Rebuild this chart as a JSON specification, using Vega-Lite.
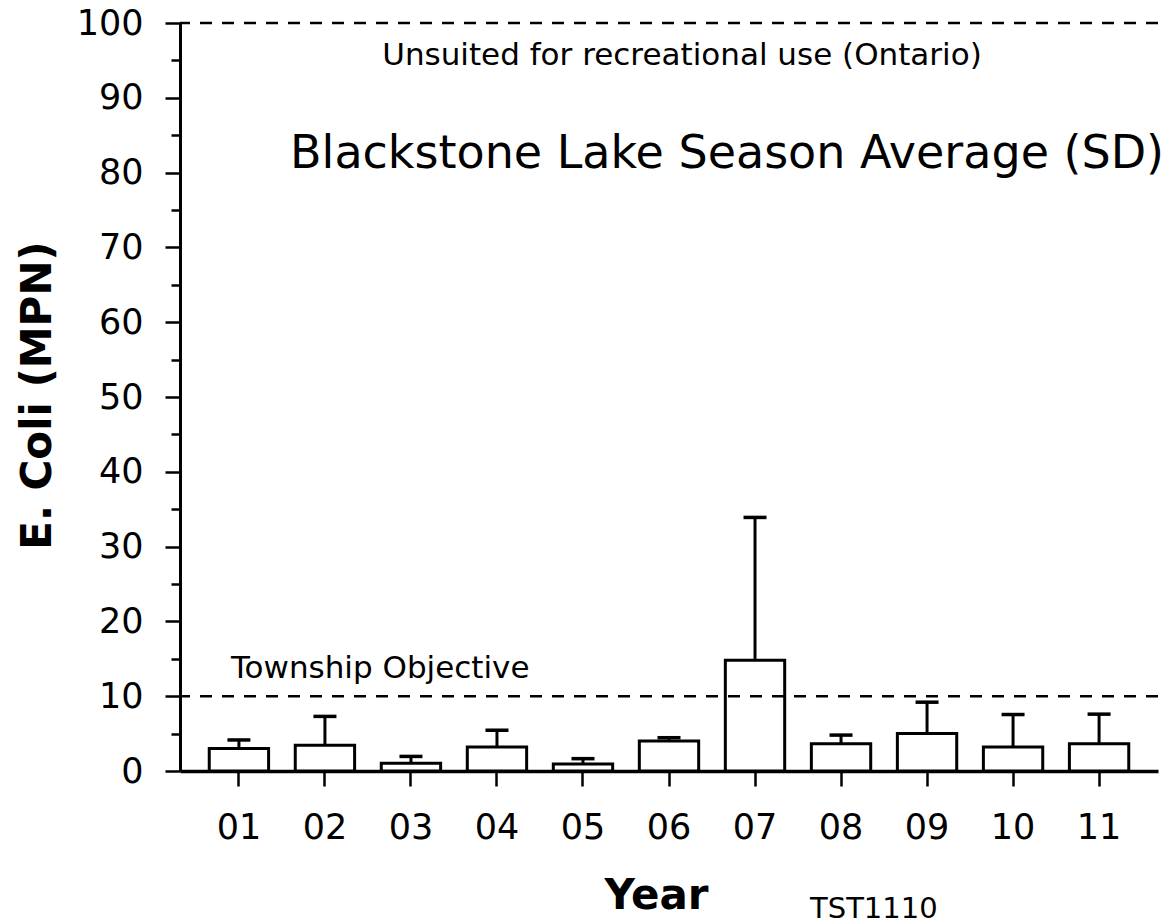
{
  "$schema": "https://vega.github.io/schema/vega-lite/v6.json",
  "width": 978,
  "height": 748,
  "autosize": {"type": "none"},
  "padding": {"left": 180, "top": 23, "right": 13, "bottom": 153},
  "background": "white",
  "config": {"view": {"stroke": null}, "font": "DejaVu Sans", "axis": {"grid": false, "domainColor": "black", "tickColor": "black", "labelColor": "black", "titleColor": "black"}},
  "datasets": {
    "bars": [
      {"year": "01", "mean": 3.0, "upper": 4.15},
      {"year": "02", "mean": 3.45, "upper": 7.3},
      {"year": "03", "mean": 1.05, "upper": 1.95},
      {"year": "04", "mean": 3.2, "upper": 5.45},
      {"year": "05", "mean": 0.95, "upper": 1.65},
      {"year": "06", "mean": 4.0, "upper": 4.45},
      {"year": "07", "mean": 14.8, "upper": 33.9},
      {"year": "08", "mean": 3.65, "upper": 4.8},
      {"year": "09", "mean": 5.0, "upper": 9.2},
      {"year": "10", "mean": 3.2, "upper": 7.55},
      {"year": "11", "mean": 3.65, "upper": 7.6}
    ],
    "limits": [{"limit": 10}, {"limit": 100}]
  },
  "resolve": {"axis": {"y": "independent"}},
  "layer": [
    {
      "data": {"name": "bars"},
      "mark": {"type": "bar", "fill": "white", "stroke": "black", "strokeWidth": 3},
      "encoding": {
        "x": {
          "field": "year", "type": "ordinal",
          "scale": {"domain": ["01","02","03","04","05","06","07","08","09","10","11"], "paddingInner": 0.31, "paddingOuter": 0.34},
          "axis": {
            "orient": "bottom", "labelAngle": 0, "labelFontSize": 35, "labelPadding": 24,
            "tickSize": 15, "tickWidth": 2.5, "domainWidth": 3.5,
            "title": "Year", "titleFontSize": 42, "titleFontWeight": "bold",
            "titleX": 476, "titleY": 137, "titleBaseline": "alphabetic"
          }
        },
        "y": {
          "field": "mean", "type": "quantitative",
          "scale": {"domain": [0, 100], "nice": false},
          "axis": {
            "orient": "left", "values": [0,10,20,30,40,50,60,70,80,90,100],
            "labelFontSize": 35, "labelPadding": 22, "tickSize": 15, "tickWidth": 2.5, "domainWidth": 3,
            "title": "E. Coli (MPN)", "titleFontSize": 42, "titleFontWeight": "bold",
            "titleX": -130, "titleY": 372, "titleBaseline": "alphabetic", "titleAngle": -90
          }
        }
      }
    },
    {
      "data": {"name": "bars"},
      "mark": {"type": "rule", "stroke": "black", "strokeWidth": 3},
      "encoding": {
        "x": {"field": "year", "type": "ordinal"},
        "y": {
          "field": "mean", "type": "quantitative",
          "axis": {
            "orient": "left", "values": [5,15,25,35,45,55,65,75,85,95],
            "labels": false, "domain": false, "tickSize": 9, "tickWidth": 2.5, "title": null
          }
        },
        "y2": {"field": "upper"}
      }
    },
    {
      "data": {"name": "bars"},
      "mark": {"type": "tick", "color": "black", "size": 23, "thickness": 3.5, "orient": "horizontal", "opacity": 1},
      "encoding": {
        "x": {"field": "year", "type": "ordinal"},
        "y": {"field": "upper", "type": "quantitative", "axis": null}
      }
    },
    {
      "data": {"name": "limits"},
      "mark": {"type": "rule", "stroke": "black", "strokeWidth": 2.5, "strokeDash": [12, 10]},
      "encoding": {
        "y": {"field": "limit", "type": "quantitative", "axis": null}
      }
    },
    {
      "data": {"values": [{"label": "Unsuited for recreational use (Ontario)", "year": "06", "v": 94.4}]},
      "mark": {"type": "text", "align": "center", "baseline": "alphabetic", "dx": 13, "fontSize": 31, "color": "black"},
      "encoding": {
        "x": {"field": "year", "type": "ordinal"},
        "y": {"field": "v", "type": "quantitative", "axis": null},
        "text": {"field": "label"}
      }
    },
    {
      "data": {"values": [{"label": "Township Objective", "year": "01", "v": 12.4}]},
      "mark": {"type": "text", "align": "left", "baseline": "alphabetic", "dx": -8, "fontSize": 31, "color": "black"},
      "encoding": {
        "x": {"field": "year", "type": "ordinal"},
        "y": {"field": "v", "type": "quantitative", "axis": null},
        "text": {"field": "label"}
      }
    },
    {
      "data": {"values": [{"label": "Blackstone Lake Season Average (SD)", "year": "11", "v": 80.6}]},
      "mark": {"type": "text", "align": "right", "baseline": "alphabetic", "dx": 65, "fontSize": 46, "color": "black"},
      "encoding": {
        "x": {"field": "year", "type": "ordinal"},
        "y": {"field": "v", "type": "quantitative", "axis": null},
        "text": {"field": "label"}
      }
    },
    {
      "data": {"values": [{"label": "TST1110", "year": "07", "v": -19.6}]},
      "mark": {"type": "text", "align": "left", "baseline": "alphabetic", "dx": 55, "fontSize": 29, "color": "black"},
      "encoding": {
        "x": {"field": "year", "type": "ordinal"},
        "y": {"field": "v", "type": "quantitative", "axis": null},
        "text": {"field": "label"}
      }
    }
  ]
}
